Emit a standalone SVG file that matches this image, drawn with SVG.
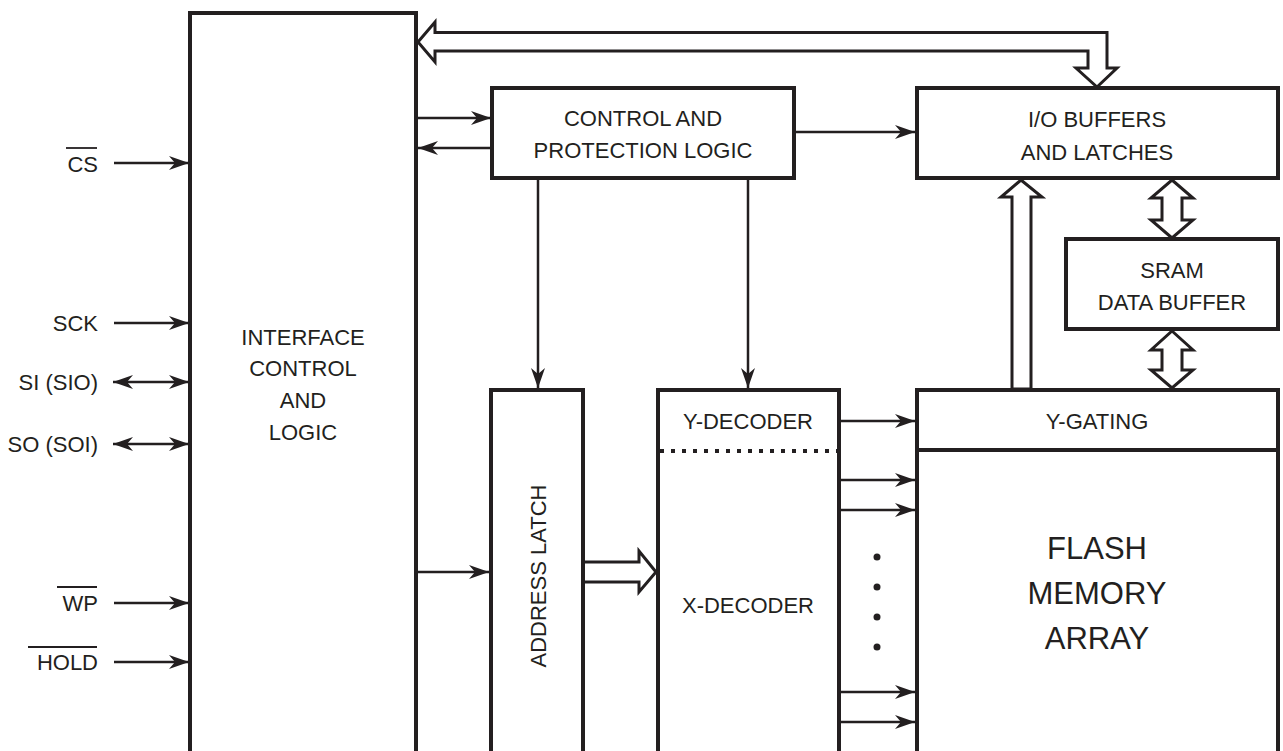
<svg xmlns="http://www.w3.org/2000/svg" width="1283" height="751" viewBox="0 0 1283 751">
<style>
.box{fill:none;stroke:#231f20;stroke-width:4}
.ln{fill:none;stroke:#231f20;stroke-width:2.5}
.bus{fill:#fff;stroke:#231f20;stroke-width:3;stroke-linejoin:miter}
.t{font-family:"Liberation Sans",Arial,sans-serif;font-size:22px;fill:#231f20;text-anchor:middle}
.lbl{font-family:"Liberation Sans",Arial,sans-serif;font-size:22px;fill:#231f20;text-anchor:end}
.big{font-family:"Liberation Sans",Arial,sans-serif;font-size:31px;fill:#231f20;text-anchor:middle}
.ov{stroke:#231f20;stroke-width:1.8}
</style>
<defs>
<marker id="ah" viewBox="-20 -7 20 14" refX="0" refY="0" markerWidth="20" markerHeight="14" markerUnits="userSpaceOnUse" orient="auto-start-reverse">
<path d="M0,0 L-20,-7 L-14,0 L-20,7 Z" fill="#231f20"/>
</marker>
</defs>
<rect width="1283" height="751" fill="#fff"/>

<g id="connectors">
<line class="ln" x1="114" y1="163" x2="189" y2="163" marker-end="url(#ah)"/>
<line class="ln" x1="114" y1="323" x2="189" y2="323" marker-end="url(#ah)"/>
<line class="ln" x1="113" y1="382" x2="189" y2="382" marker-start="url(#ah)" marker-end="url(#ah)"/>
<line class="ln" x1="113" y1="444" x2="189" y2="444" marker-start="url(#ah)" marker-end="url(#ah)"/>
<line class="ln" x1="114" y1="603" x2="189" y2="603" marker-end="url(#ah)"/>
<line class="ln" x1="114" y1="662" x2="189" y2="662" marker-end="url(#ah)"/>
<line class="ln" x1="418" y1="118" x2="491" y2="118" marker-end="url(#ah)"/>
<line class="ln" x1="491" y1="148" x2="418" y2="148" marker-end="url(#ah)"/>
<line class="ln" x1="796" y1="132" x2="915" y2="132" marker-end="url(#ah)"/>
<line class="ln" x1="538" y1="180" x2="538" y2="388" marker-end="url(#ah)"/>
<line class="ln" x1="748" y1="180" x2="748" y2="388" marker-end="url(#ah)"/>
<line class="ln" x1="418" y1="572" x2="489" y2="572" marker-end="url(#ah)"/>
<line class="ln" x1="841" y1="421" x2="915" y2="421" marker-end="url(#ah)"/>
<line class="ln" x1="841" y1="480" x2="915" y2="480" marker-end="url(#ah)"/>
<line class="ln" x1="841" y1="510" x2="915" y2="510" marker-end="url(#ah)"/>
<line class="ln" x1="841" y1="692" x2="915" y2="692" marker-end="url(#ah)"/>
<line class="ln" x1="841" y1="722" x2="915" y2="722" marker-end="url(#ah)"/>
<polygon class="bus" points="418,42 435,22 435,32.5 1107,32.5 1107,68 1117,68 1097,87 1076,68 1088,68 1088,51 435,51 435,62"/>
<polygon class="bus" points="1012,389 1012,197 1001,197 1021,180 1042,197 1031,197 1031,389"/>
<polygon class="bus" points="1172,180 1193,198 1182,198 1182,220 1193,220 1172,238 1151,220 1162,220 1162,198 1151,198"/>
<polygon class="bus" points="1172,331 1193,350 1182,350 1182,370 1193,370 1172,388 1151,370 1162,370 1162,350 1151,350"/>
<polyline class="bus" points="583,562 639,562 639,551 656,572 639,592 639,582 583,582"/>
</g>

<g id="signal-labels">
<text class="lbl" x="98" y="172">CS</text>
<line class="ov" x1="66" y1="148" x2="97" y2="148"/>
<text class="lbl" x="98" y="611">WP</text>
<line class="ov" x1="57" y1="587" x2="97" y2="587"/>
<text class="lbl" x="98" y="331">SCK</text>
<text class="lbl" x="98" y="390">SI (SIO)</text>
<text class="lbl" x="98" y="452">SO (SOI)</text>
<text class="lbl" x="98" y="670">HOLD</text>
<line class="ov" x1="28" y1="647" x2="97" y2="647"/>
</g>

<g id="interface">
<rect class="box" x="190" y="13" width="226" height="760"/>
<text class="t" x="303" y="345">INTERFACE</text>
<text class="t" x="303" y="376">CONTROL</text>
<text class="t" x="303" y="408">AND</text>
<text class="t" x="303" y="440">LOGIC</text>
</g>

<g id="control">
<rect class="box" x="492" y="88" width="302" height="90"/>
<text class="t" x="643" y="126">CONTROL AND</text>
<text class="t" x="643" y="158">PROTECTION LOGIC</text>
</g>

<g id="io-buffers">
<rect class="box" x="917" y="88" width="361" height="90"/>
<text class="t" x="1097" y="127">I/O BUFFERS</text>
<text class="t" x="1097" y="160">AND LATCHES</text>
</g>

<g id="sram">
<rect class="box" x="1066" y="239" width="212" height="90"/>
<text class="t" x="1172" y="278">SRAM</text>
<text class="t" x="1172" y="310">DATA BUFFER</text>
</g>

<g id="address-latch">
<rect class="box" x="491" y="390" width="92" height="400"/>
<text class="t" transform="translate(546,576) rotate(-90)">ADDRESS LATCH</text>
</g>

<g id="decoder">
<rect class="box" x="658" y="390" width="181" height="400"/>
<line x1="660" y1="451" x2="838" y2="451" stroke="#231f20" stroke-width="4" stroke-dasharray="4 7"/>
<text class="t" x="748" y="429">Y-DECODER</text>
<text class="t" x="748" y="613">X-DECODER</text>
<g fill="#231f20">
<circle cx="877" cy="557" r="3.5"/>
<circle cx="877" cy="587" r="3.5"/>
<circle cx="877" cy="617" r="3.5"/>
<circle cx="877" cy="647" r="3.5"/>
</g>
</g>

<g id="y-gating">
<rect class="box" x="917" y="390" width="361" height="60"/>
<text class="t" x="1097" y="429">Y-GATING</text>
</g>

<g id="flash-array">
<rect class="box" x="917" y="450" width="361" height="340"/>
<text class="big" x="1097" y="559">FLASH</text>
<text class="big" x="1097" y="604">MEMORY</text>
<text class="big" x="1097" y="649">ARRAY</text>
</g>
</svg>
